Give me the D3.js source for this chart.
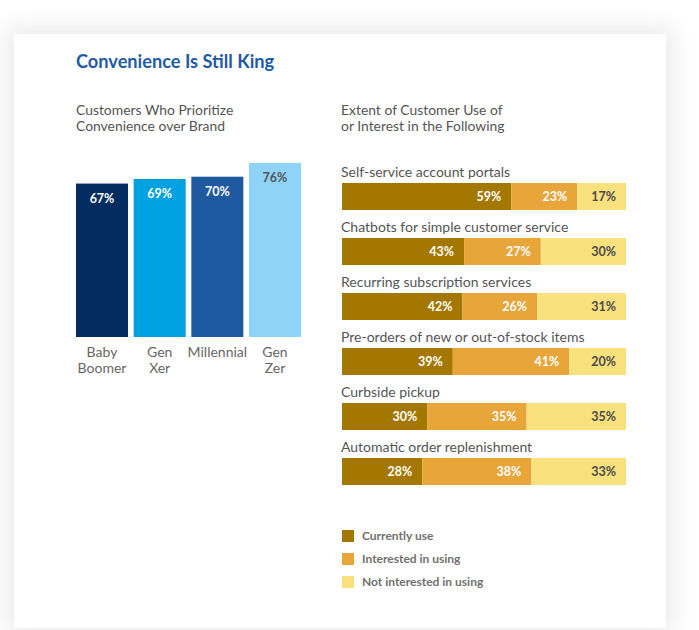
<!DOCTYPE html>
<html>
<head>
<meta charset="utf-8">
<script src="https://cdn.jsdelivr.net/npm/d3@7"></script>
<style>
  html, body { margin: 0; padding: 0; background: #ffffff; width: 699px; height: 630px; overflow: hidden; }
  #card { position: absolute; left: 14px; top: 34px; width: 652px; height: 594px; background: #fff;
          box-shadow: 0 0 22px 6px rgba(0,0,0,0.09); }
  svg { position: absolute; left: 0; top: 0; }
  text { font-family: Lato, "Open Sans", sans-serif; }
</style>
</head>
<body>
<div id="card"></div>
<svg id="chart" width="699" height="630"></svg>
<script>
// ---- data ----
const generations = ["Baby Boomer", "Gen Xer", "Millennial", "Gen Zer"];
const generationLabels = [["Baby", "Boomer"], ["Gen", "Xer"], ["Millennial"], ["Gen", "Zer"]];
const prioritizeConvenience = [67, 69, 70, 76];
const generationColors = ["#032d60", "#00a1e0", "#1f5aa0", "#8ed3f8"];

const services = [
  "Self-service account portals",
  "Chatbots for simple customer service",
  "Recurring subscription services",
  "Pre-orders of new or out-of-stock items",
  "Curbside pickup",
  "Automatic order replenishment"
];
const currentlyUse     = [59, 43, 42, 39, 30, 28];
const interestedIn     = [23, 27, 26, 41, 35, 38];
const notInterested    = [17, 30, 31, 20, 35, 33];
const seriesNames  = ["Currently use", "Interested in using", "Not interested in using"];
const seriesColors = ["#a37700", "#e8a53a", "#f9e17e"];
const seriesText   = ["#ffffff", "#ffffff", "#4a4a4a"];

// ---- drawing ----
const svg = d3.select("#chart");

svg.append("text").attr("x", 76).attr("y", 68)
  .attr("fill", "#1f5aa6").attr("font-size", 18.2).attr("font-weight", 700)
  .text("Convenience Is Still King");

function subtitle(x, lines) {
  lines.forEach((l, i) => svg.append("text").attr("x", x).attr("y", 115 + i * 16)
    .attr("fill", "#555").attr("font-size", 13.9).text(l));
}
subtitle(76, ["Customers Who Prioritize", "Convenience over Brand"]);
subtitle(341, ["Extent of Customer Use of", "or Interest in the Following"]);

// Left column chart
const xL = d3.scaleBand().domain(generations).range([76, 301]).paddingInner(0.098).paddingOuter(0);
const yL = d3.scaleLinear().domain([0, 100]).range([337, 108]);

const gL = svg.append("g");
gL.selectAll("rect").data(generations).join("rect")
  .attr("x", d => xL(d)).attr("width", xL.bandwidth())
  .attr("y", (d, i) => yL(prioritizeConvenience[i]))
  .attr("height", (d, i) => yL(0) - yL(prioritizeConvenience[i]))
  .attr("fill", (d, i) => generationColors[i]);

gL.selectAll("text.val").data(generations).join("text").attr("class", "val")
  .attr("x", d => xL(d) + xL.bandwidth() / 2)
  .attr("y", (d, i) => yL(prioritizeConvenience[i]) + 19)
  .attr("text-anchor", "middle").attr("font-size", 12.5).attr("font-weight", 700)
  .attr("fill", (d, i) => i === 3 ? "#555" : "#fff")
  .text((d, i) => prioritizeConvenience[i] + "%");

generations.forEach((g, i) => {
  generationLabels[i].forEach((l, j) => {
    gL.append("text").attr("x", xL(g) + xL.bandwidth() / 2).attr("y", 357 + j * 15.5)
      .attr("text-anchor", "middle").attr("font-size", 14).attr("fill", "#666").text(l);
  });
});

// Right stacked bars
const rows = services.map((s, i) => ({
  service: s, values: [currentlyUse[i], interestedIn[i], notInterested[i]]
}));
const yR = d3.scaleBand().domain(services).range([183, 485]).paddingInner(0.509).paddingOuter(0);

const gR = svg.append("g");
rows.forEach(r => {
  const total = d3.sum(r.values);
  const xR = d3.scaleLinear().domain([0, total]).range([342, 626]);
  const y0 = yR(r.service);
  gR.append("text").attr("x", 341).attr("y", y0 - 6)
    .attr("font-size", 14).attr("fill", "#555").text(r.service);
  let acc = 0;
  r.values.forEach((v, k) => {
    const x0 = xR(acc), x1 = xR(acc + v);
    gR.append("rect").attr("x", x0).attr("y", y0).attr("width", x1 - x0)
      .attr("height", yR.bandwidth()).attr("fill", seriesColors[k]);
    gR.append("text").attr("x", x1 - 10).attr("y", y0 + yR.bandwidth() / 2)
      .attr("dy", "0.36em").attr("text-anchor", "end")
      .attr("font-size", 12.5).attr("font-weight", 700).attr("fill", seriesText[k])
      .text(v + "%");
    acc += v;
  });
});

// Legend
const legend = svg.append("g");
seriesNames.forEach((n, k) => {
  const y = 530 + k * 23;
  legend.append("rect").attr("x", 342).attr("y", y).attr("width", 12).attr("height", 12)
    .attr("fill", seriesColors[k]);
  legend.append("text").attr("x", 362).attr("y", y + 6).attr("dy", "0.36em")
    .attr("font-size", 12).attr("font-weight", 700).attr("fill", "#707070").text(n);
});
</script>
</body>
</html>
